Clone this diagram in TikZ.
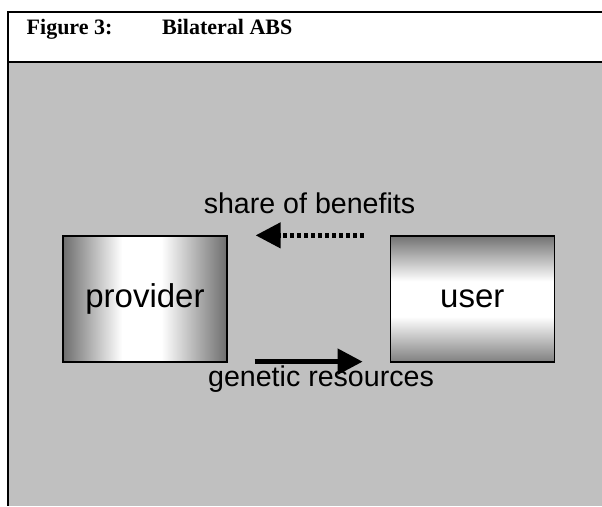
\documentclass[tikz,border=0pt]{standalone}
\usepackage{fontspec}
\setmainfont{Liberation Serif}
\setsansfont{Liberation Sans}
\usetikzlibrary{arrows.meta,positioning}
\definecolor{panel}{RGB}{192,192,192}
\pgfdeclarehorizontalshading{glossh}{100bp}{color(0bp)=(black!57); color(25bp)=(black!57); color(43bp)=(white); color(55bp)=(white); color(75bp)=(black!57); color(100bp)=(black!57)}
\pgfdeclareverticalshading{glossv}{100bp}{color(0bp)=(black!50); color(25bp)=(black!50); color(43bp)=(white); color(57bp)=(white); color(75bp)=(black!55); color(100bp)=(black!55)}
\tikzset{frame/.style={
            draw,
            line width=2pt
        },
        party/.style={
            draw,
            line width=1.3pt,
            minimum width=164pt,
            minimum height=126pt,
            inner sep=0pt,
            font=\sffamily\fontsize{33pt}{38pt}\selectfont
        },
        sidewise/.style={
            party,
            shading=glossh
        },
        upright/.style={
            party,
            shading=glossv
        },
        flowlabel/.style={
            anchor=base,
            inner sep=0pt,
            font=\sffamily\fontsize{28.6pt}{33pt}\selectfont
        },
        heading/.style={
            anchor=base west,
            inner sep=0pt,
            font=\fontsize{22pt}{26pt}\bfseries\selectfont
        },
        flow/.style={
            line width=5pt,
            -{Triangle[length=25pt,width=25pt]}
        }
    }

\begin{document}
\begin{tikzpicture}[x=1pt,y=-1pt]
\useasboundingbox (0,0) rectangle (602,506);
\fill[white] (8,12) rectangle (602,62);
\fill[panel] (8,62) rectangle (602,506);
\draw[frame] (602,12) -- (8,12) -- (8,506);
\draw[frame] (8,62) -- (602,62);
\node[heading] (fignum) at (26.5,34.5) {Figure 3:};
\node[heading] (figtitle) at (162,34.5) {Bilateral ABS};
\node[sidewise] (provider) at (145,299) {provider};
\node[upright, right=162pt of provider] (user) {user};
\node[flowlabel] (benefits) at (309.5,213.5) {share of benefits};
\node[flowlabel] (resources) at (321,386.5) {genetic resources};
\draw[flow,line width=4.5pt,dash pattern=on 4pt off 3pt] ([xshift=-26pt]user.north west) -- ([xshift=28pt]provider.north east);
\draw[flow] ([xshift=27pt,yshift=1pt]provider.south east) -- ([xshift=-27pt,yshift=1pt]user.south west);
\end{tikzpicture}
\end{document}
